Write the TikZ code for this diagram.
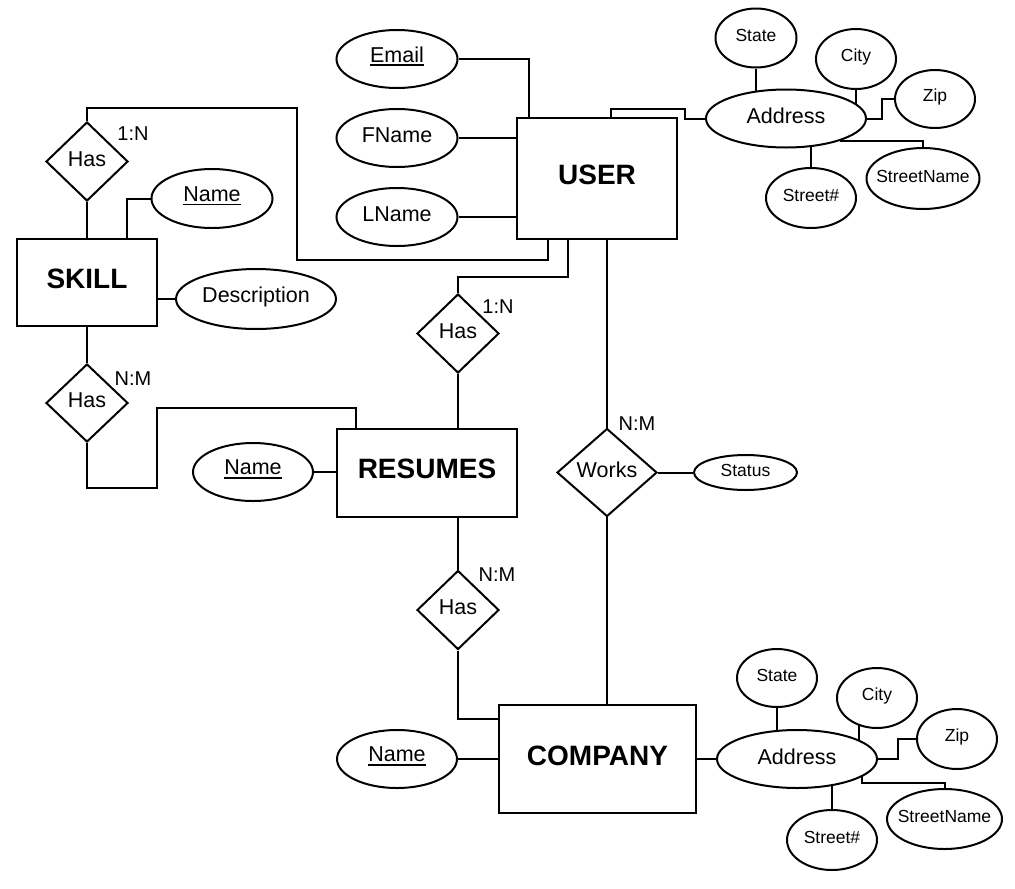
\documentclass[tikz,border=0pt]{standalone}
\usepackage{fontspec}
\setmainfont{Liberation Sans}
\usetikzlibrary{shapes.geometric,backgrounds,calc}
\newsavebox\undlbox
\newcommand{\undl}[1]{\sbox\undlbox{#1}\rlap{\rule[-4pt]{\wd\undlbox}{1.8pt}}\usebox\undlbox}
\newcommand{\ctr}[1]{\makebox[0pt]{\raisebox{2.5pt}[\height][\depth]{#1}}}
\newcommand{\ctrb}[1]{\makebox[0pt]{\raisebox{3.5pt}[\height][\depth]{#1}}}
\begin{document}
\begin{tikzpicture}[x=1pt,y=-1pt,
  base/.style={draw, line width=2pt, fill=white, inner sep=0pt},
  sz/.style 2 args={minimum width=#1pt, minimum height=#2pt},
  attr/.style={ellipse, base, font=\fontsize{21.5}{26}\selectfont},
  sattr/.style={ellipse, base, font=\fontsize{17.5}{21}\selectfont},
  ent/.style={rectangle, base, font=\bfseries\fontsize{28}{34}\selectfont},
  rel/.style={diamond, base, font=\fontsize{21.5}{26}\selectfont},
  card/.style={inner sep=0pt, font=\fontsize{20}{24}\selectfont},
  conn/.style={line width=2pt}]
\useasboundingbox (0,0) rectangle (1015,889);
% USER
\node[ent, sz={160}{121}] (user) at (597,178.5) {\ctrb{USER}};
\node[attr, sz={121}{58}] (email) at (397,59) {\ctr{\undl{Email}}};
\node[attr, sz={121}{58}] (fname) at (397,138) {\ctr{FName}};
\node[attr, sz={121}{58}] (lname) at (397,217) {\ctr{LName}};
\node[attr, sz={160}{58}] (uaddr) at (786,118.5) {\ctr{Address}};
\node[sattr, sz={81}{59}] (ustate) at (756,38) {\ctr{State}};
\node[sattr, sz={80}{60}] (ucity) at (856,59) {\ctr{City}};
\node[sattr, sz={80}{58}] (uzip) at (935,99) {\ctr{Zip}};
\node[sattr, sz={90}{60}] (ustno) at (811,198) {\ctr{Street\#}};
\node[sattr, sz={113}{61}] (ustname) at (923,178.5) {\ctr{StreetName}};
% SKILL
\node[rel, sz={82}{79}] (has1) at (87,161.5) {\ctr{Has}};
\node[attr, sz={121}{59}] (sname) at (212,198.5) {\ctr{\undl{Name}}};
\node[ent, sz={140}{87}] (skill) at (87,282.5) {\ctrb{SKILL}};
\node[attr, sz={160}{60}] (desc) at (256,299) {\ctr{Description}};
\node[rel, sz={82}{78}] (has2) at (87,403) {\ctr{Has}};
% RESUMES
\node[ent, sz={180}{88}] (resumes) at (427,472.5) {\ctrb{RESUMES}};
\node[attr, sz={120}{58}] (rname) at (253,472) {\ctr{\undl{Name}}};
\node[rel, sz={82}{79}] (has3) at (458,333.5) {\ctr{Has}};
\node[rel, sz={100}{88}] (works) at (607,472.5) {\ctr{Works}};
\node[sattr, sz={103}{35}] (status) at (745.5,472.5) {\ctr{Status}};
\node[rel, sz={82}{79}] (has4) at (458,610) {\ctr{Has}};
% COMPANY
\node[ent, sz={197}{108}] (company) at (597.5,759) {\ctrb{COMPANY}};
\node[attr, sz={120}{58}] (cname) at (397,759) {\ctr{\undl{Name}}};
\node[attr, sz={160}{58}] (caddr) at (797,759) {\ctr{Address}};
\node[sattr, sz={80}{58}] (cstate) at (777,678) {\ctr{State}};
\node[sattr, sz={80}{60}] (ccity) at (877,698) {\ctr{City}};
\node[sattr, sz={80}{60}] (czip) at (957,739) {\ctr{Zip}};
\node[sattr, sz={90}{60}] (cstno) at (832,840) {\ctr{Street\#}};
\node[sattr, sz={115}{60}] (cstname) at (944.5,819) {\ctr{StreetName}};
% cardinalities
\node[card] (l1) at (133,134) {1:N};
\node[card] (l2) at (133,379) {N:M};
\node[card] (l3) at (498,307) {1:N};
\node[card] (l4) at (637,424) {N:M};
\node[card] (l5) at (497,575) {N:M};
% connectors
\begin{scope}[on background layer]
\begin{scope}[conn]
\draw[conn] (email) -| ($(user.north)+(-68,0)$);
\draw[conn] (fname) -- (fname -| user);
\draw[conn] (lname) -- (lname -| user);
\draw[conn] ($(user.north)+(14,0)$) |- ($(uaddr.west)+(-20,-10)$) |- (uaddr);
\draw[conn] (ustate) -- (ustate |- uaddr);
\draw[conn] (ucity) -- (ucity |- uaddr);
\draw[conn] (uzip) -| ($(uaddr.east)+(15,0)$) -- (uaddr);
\draw[conn] (ustno) -- (ustno |- uaddr);
\draw[conn] ($(uaddr)+(55,0)$) |- ($(ustname.north)+(0,-6)$) -- (ustname);
\draw[conn] (has1) |- (297,108) |- ($(user.south)+(-49,20)$) -- ($(user.south)+(-49,0)$);
\draw[conn] (has1) -- (skill);
\draw[conn] (sname) -| ($(skill.north)+(40,0)$);
\draw[conn] (desc) -- (desc -| skill);
\draw[conn] (skill) -- (has2);
\draw[conn] (has2) |- (157,488) |- ($(resumes.north west)+(20,-20)$) -- ($(resumes.north west)+(20,0)$);
\draw[conn] (rname) -- (rname -| resumes);
\draw[conn] ($(user.south)+(-29,0)$) |- ($(has3.north)+(0,-16)$) -- (has3) -- (has3 |- resumes);
\draw[conn] (works |- user) -- (works |- company);
\draw[conn] (works) -- (status);
\draw[conn] (has4 |- resumes) -- (has4) |- ($(company.west)+(0,-40)$);
\draw[conn] (cname) -- (cname -| company);
\draw[conn] (company) -- (caddr);
\draw[conn] (cstate) -- (cstate |- caddr);
\draw[conn] ($(ccity)+(-18,0)$) -- ++(0,60);
\draw[conn] (czip) -| ($(caddr.east)+(20,0)$) -- (caddr);
\draw[conn] (cstno) -- (cstno |- caddr);
\draw[conn] ($(caddr)+(65,0)$) |- ($(cstname.north)+(0,-5)$) -- (cstname);
\end{scope}
\end{scope}
\end{tikzpicture}
\end{document}
